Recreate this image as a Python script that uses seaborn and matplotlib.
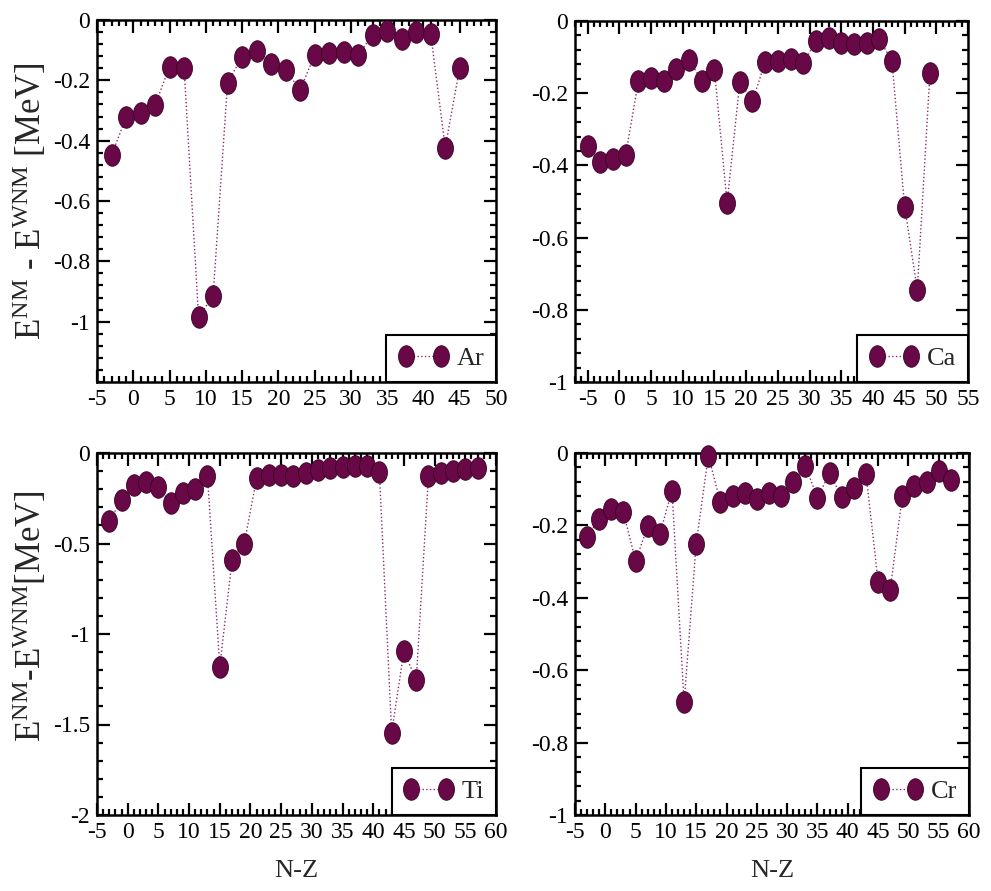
import numpy as np
import matplotlib
matplotlib.use("Agg")
import matplotlib.pyplot as plt
from matplotlib.path import Path
from matplotlib.ticker import MultipleLocator, FixedLocator, FuncFormatter
import seaborn as sns
import pandas as pd

# ---------------- data ----------------
ar_nz = [-3, -1, 1, 3, 5, 7, 9, 11, 13, 15, 17, 19, 21, 23, 25, 27, 29, 31, 33, 35, 37, 39, 41, 43, 45]
ar_de = [-0.448, -0.323, -0.307, -0.282, -0.155, -0.158, -0.984, -0.915, -0.208, -0.122,
         -0.102, -0.147, -0.166, -0.232, -0.116, -0.110, -0.105, -0.116, -0.050, -0.035,
         -0.064, -0.040, -0.045, -0.423, -0.158]

ca_nz = [-5, -3, -1, 1, 3, 5, 7, 9, 11, 13, 15, 17, 19, 21, 23, 25, 27, 29, 31, 33, 35, 37, 39, 41,
         43, 45, 47, 49]
ca_de = [-0.347, -0.391, -0.382, -0.370, -0.167, -0.157, -0.167, -0.134, -0.108, -0.165,
         -0.137, -0.504, -0.169, -0.222, -0.114, -0.111, -0.104, -0.117, -0.056, -0.046,
         -0.060, -0.063, -0.060, -0.049, -0.111, -0.514, -0.745, -0.143]

ti_nz = [-3, -1, 1, 3, 5, 7, 9, 11, 13, 15, 17, 19, 21, 23, 25, 27, 29, 31, 33, 35, 37, 39, 41,
         43, 45, 47, 49, 51, 53, 55, 57]
ti_de = [-0.377, -0.258, -0.178, -0.160, -0.188, -0.276, -0.221, -0.197, -0.127, -1.180,
         -0.593, -0.500, -0.140, -0.120, -0.120, -0.125, -0.110, -0.095, -0.085, -0.075,
         -0.070, -0.070, -0.105, -1.545, -1.094, -1.256, -0.125, -0.110, -0.100, -0.090,
         -0.085]

cr_nz = [-3, -1, 1, 3, 5, 7, 9, 11, 13, 15, 17, 19, 21, 23, 25, 27, 29, 31, 33, 35, 37, 39, 41,
         43, 45, 47, 49, 51, 53, 55, 57]
cr_de = [-0.233, -0.181, -0.154, -0.164, -0.299, -0.201, -0.223, -0.104, -0.689, -0.250,
         -0.007, -0.136, -0.120, -0.110, -0.127, -0.110, -0.118, -0.081, -0.035, -0.124,
         -0.055, -0.122, -0.097, -0.057, -0.355, -0.378, -0.118, -0.092, -0.081, -0.051,
         -0.074]

elements = ["Ar", "Ca", "Ti", "Cr"]
x_label = "N-Z"
y_label_top = r"E$^{\rm NM}$ - E$^{\rm WNM}$ [MeV]"
y_label_bottom = r"E$^{\rm NM}$-E$^{\rm WNM}$[MeV]"

ar_yticks = [0, -0.2, -0.4, -0.6, -0.8, -1.0]
ca_yticks = [0, -0.2, -0.4, -0.6, -0.8, -1.0]
ti_yticks = [0, -0.5, -1.0, -1.5, -2.0]
cr_yticks = [0, -0.2, -0.4, -0.6, -0.8, -1.0]

# ---------------- style ----------------
sns.set_style("ticks")
plt.rcParams["font.family"] = ["Liberation Serif", "DejaVu Serif"]
plt.rcParams["mathtext.fontset"] = "custom"
plt.rcParams["mathtext.rm"] = "Liberation Serif"
plt.rcParams["mathtext.it"] = "Liberation Serif:italic"
plt.rcParams["axes.unicode_minus"] = False

FACE = "#690846"
EDGE = "#3a0026"
LINE = "#8a2c66"

t = np.linspace(0, 2 * np.pi, 61)
ellipse = Path(np.column_stack([0.74 * np.cos(t), np.sin(t)]), closed=True)

fig = plt.figure(figsize=(9.91, 8.91), dpi=100)
W, H = 991.0, 891.0

def rect(l, r, top, bot):
    return [l / W, 1 - bot / H, (r - l) / W, (bot - top) / H]

panels = [
    dict(nz=ar_nz, de=ar_de, name=elements[0], rect=rect(97, 496, 20, 382),
         xlim=(-5, 50), ylim=(-1.2, 0), yticks=ar_yticks, yminor=0.04,
         ylab=y_label_top, ylab_y=0.5, xlab=False),
    dict(nz=ca_nz, de=ca_de, name=elements[1], rect=rect(575, 968, 21, 382),
         xlim=(-7, 55), ylim=(-1.0, 0), yticks=ca_yticks, yminor=0.04,
         ylab=None, ylab_y=0.5, xlab=False),
    dict(nz=ti_nz, de=ti_de, name=elements[2], rect=rect(97, 496, 453, 815),
         xlim=(-5, 60), ylim=(-2.0, 0), yticks=ti_yticks, yminor=0.1,
         ylab=y_label_bottom, ylab_y=0.55, xlab=True),
    dict(nz=cr_nz, de=cr_de, name=elements[3], rect=rect(575, 969, 453, 815),
         xlim=(-5, 60), ylim=(-1.0, 0), yticks=cr_yticks, yminor=0.04,
         ylab=None, ylab_y=0.5, xlab=True),
]

def fmt(v, pos):
    if abs(v) < 1e-9:
        return "0"
    return f"{v:g}"

for p in panels:
    ax = fig.add_axes(p["rect"])
    df = pd.DataFrame({"N-Z": p["nz"], "dE": p["de"]})
    sns.lineplot(data=df, x="N-Z", y="dE", ax=ax, estimator=None, sort=False,
                 color=LINE, linestyle=":", linewidth=1.0,
                 marker=ellipse, markersize=15.5, markerfacecolor=FACE,
                 markeredgecolor=EDGE, markeredgewidth=0.6,
                 label=p["name"], clip_on=False, zorder=3)
    ax.set_xlim(*p["xlim"])
    ax.set_ylim(*p["ylim"])
    ax.xaxis.set_major_locator(MultipleLocator(5))
    ax.xaxis.set_minor_locator(MultipleLocator(1))
    ax.yaxis.set_major_locator(FixedLocator(p["yticks"]))
    ax.yaxis.set_minor_locator(MultipleLocator(p["yminor"]))
    ax.xaxis.set_major_formatter(FuncFormatter(fmt))
    ax.yaxis.set_major_formatter(FuncFormatter(fmt))
    ax.tick_params(which="both", direction="in", top=True, right=True,
                   width=1.6, color="black", labelsize=17, labelcolor="black")
    ax.tick_params(which="major", length=9, pad=5)
    ax.tick_params(which="minor", length=4.5)
    for s in ax.spines.values():
        s.set_linewidth(1.8)
        s.set_color("black")
    if p["ylab"]:
        ax.set_ylabel(p["ylab"], fontsize=25)
        ax.yaxis.set_label_coords(-0.12, p["ylab_y"])
    else:
        ax.set_ylabel("")
    if p["xlab"]:
        ax.set_xlabel(x_label, fontsize=19, labelpad=12)
    else:
        ax.set_xlabel("")
    leg = ax.legend(loc="lower right", borderaxespad=0, numpoints=2, fancybox=False,
                    edgecolor="black", framealpha=1, fontsize=19, handlelength=1.9,
                    handletextpad=0.3, borderpad=0.45)
    leg.get_frame().set_linewidth(1.5)
    leg.set_zorder(10)

fig.savefig("out.png", dpi=100, facecolor="white")
